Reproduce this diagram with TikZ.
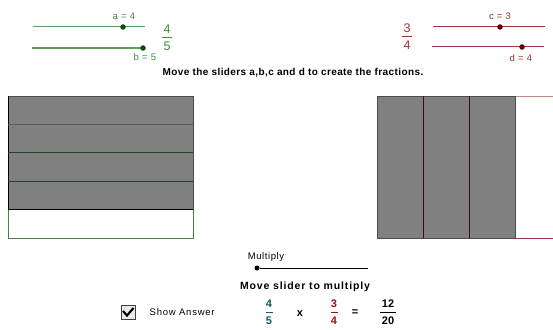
\documentclass[tikz,border=0pt]{standalone}
\usepackage{fontspec}
\setmainfont{Liberation Sans}
\definecolor{gline}{RGB}{90,160,90}
\definecolor{gdot}{RGB}{0,80,0}
\definecolor{gtxt}{RGB}{60,140,60}
\definecolor{rline}{RGB}{150,60,60}
\definecolor{rdot}{RGB}{90,0,0}
\definecolor{rtxt}{RGB}{150,50,50}
\definecolor{boxgray}{RGB}{128,128,128}
\definecolor{fracteal}{RGB}{20,90,90}
\definecolor{dred}{RGB}{150,20,20}
\definecolor{rowline}{RGB}{35,65,35}
\definecolor{colline}{RGB}{60,15,15}
\tikzset{
  lab/.style={font=\addfontfeature{LetterSpace=6}\fontsize{9.5}{10}\selectfont, inner sep=0pt},
  slidedot/.style={circle, inner sep=0pt, minimum size=5.5pt},
  bigfrac/.style={font=\fontsize{12.5}{13}\selectfont, inner sep=0pt},
  smallfrac/.style={font=\bfseries\fontsize{11}{12}\selectfont, inner sep=0pt},
}
\begin{document}
\begin{tikzpicture}[x=1pt,y=-1pt]
\useasboundingbox (0,0) rectangle (553,329);
% slider a
\coordinate (a0) at (33,27); \coordinate (a1) at (145,27);
\draw[gline, line width=1pt] (a0) -- (a1);
\node[slidedot, fill=gdot] (ad) at (123,27) {};
\node[lab, text=gtxt] (al) at (124,16) {a = 4};
% slider b
\coordinate (b0) at (32,48); \coordinate (b1) at (145,48);
\draw[gline, line width=1.4pt] (b0) -- (b1);
\node[slidedot, fill=gdot] (bd) at (143,48) {};
\node[lab, text=gtxt] (bl) at (145,57.5) {b = 5};
% fraction 4/5
\node[bigfrac, text=gtxt] (fa) at (167,29) {4};
\node[bigfrac, text=gtxt] (fb) at (167,46) {5};
\draw[gtxt, line width=0.6pt] (162,37.5) -- (172,37.5);
% slider c
\coordinate (c0) at (433,27); \coordinate (c1) at (545,27);
\draw[rline, line width=1pt] (c0) -- (c1);
\node[slidedot, fill=rdot] (cd) at (500,27) {};
\node[lab, text=rtxt] (cl) at (500,16) {c = 3};
% slider d
\coordinate (d0) at (432,47); \coordinate (d1) at (544,47);
\draw[rline, line width=1pt] (d0) -- (d1);
\node[slidedot, fill=rdot] (dd) at (522,47) {};
\node[lab, text=rtxt] (dl) at (521,58) {d = 4};
% fraction 3/4
\node[bigfrac, text=rtxt] (fc) at (407,28) {3};
\node[bigfrac, text=rtxt] (fd) at (407,45) {4};
\draw[rtxt, line width=0.6pt] (402,36.5) -- (412,36.5);
% title
\node[font=\bfseries\addfontfeature{LetterSpace=4}\fontsize{10}{11}\selectfont, inner sep=0pt] (title) at (293,73) {Move the sliders a,b,c and d to create the fractions.};
% left rectangle
\fill[boxgray] (8,96) rectangle (193,209.7);
\draw[gline!80!black, line width=0.7pt] (8,209.7) -- (8,238) -- (193,238) -- (193,209.7);
\draw[black!70, line width=0.8pt] (8,96) -- (193,96);
\draw[black, line width=0.8pt] (8,96) -- (8,209.7);
\draw[black!70, line width=0.8pt] (193,96) -- (193,209.7);
\draw[rowline!80, line width=1pt] (8,124) -- (193,124);
\draw[rowline, line width=0.7pt] (8,152.7) -- (193,152.7);
\draw[rowline, line width=0.7pt] (8,181.7) -- (193,181.7);
\draw[black, line width=0.8pt] (8,209.7) -- (193,209.7);
% right rectangle
\fill[boxgray] (377,96) rectangle (515,238);
\draw[rline!60, line width=0.8pt] (515,96) -- (553,96);
\draw[rline, line width=0.8pt] (515,238) -- (553,238);
\draw[black!70, line width=0.8pt] (377,96) rectangle (515,238);
\draw[colline, line width=0.7pt] (423.3,96) -- (423.3,238);
\draw[colline, line width=0.7pt] (469.3,96) -- (469.3,238);
% multiply slider
\node[lab] (ml) at (266,257) {Multiply};
\coordinate (m1) at (368,268);
\node[slidedot, fill=black, minimum size=5pt] (md) at (257,268) {};
\draw[black, line width=0.8pt] (md) -- (m1);
\node[font=\bfseries\addfontfeature{LetterSpace=8}\fontsize{10.5}{11}\selectfont, inner sep=0pt] (mt) at (305,287) {Move slider to multiply};
% checkbox
\node[draw=black!75, fill=black!8, line width=0.8pt, minimum width=14pt, minimum height=14pt, inner sep=0pt] (cb) at (128,312) {};
\draw[black, line width=2.2pt] (123,311) -- (127,315.5) -- (133.5,308);
\node[font=\addfontfeature{LetterSpace=8}\fontsize{9.5}{10}\selectfont, inner sep=0pt, anchor=west] (sa) at (149.5,312) {Show Answer};
% answer fractions
\node[smallfrac, text=fracteal] (n1) at (269,304) {4};
\node[smallfrac, text=fracteal] (d1n) at (269,321) {5};
\draw[fracteal, line width=0.8pt] (265.5,312.5) -- (272.5,312.5);
\node[smallfrac] (x) at (300,314) {x};
\node[smallfrac, text=dred] (n2) at (334,304) {3};
\node[smallfrac, text=dred] (d2n) at (334,321) {4};
\draw[dred, line width=0.8pt] (330.5,312.5) -- (337.5,312.5);
\node[smallfrac] (eq) at (355,313) {=};
\node[smallfrac] (n3) at (388,304) {12};
\node[smallfrac] (d3n) at (388,321) {20};
\draw[black, line width=0.8pt] (380,312.5) -- (396,312.5);
\end{tikzpicture}
\end{document}
